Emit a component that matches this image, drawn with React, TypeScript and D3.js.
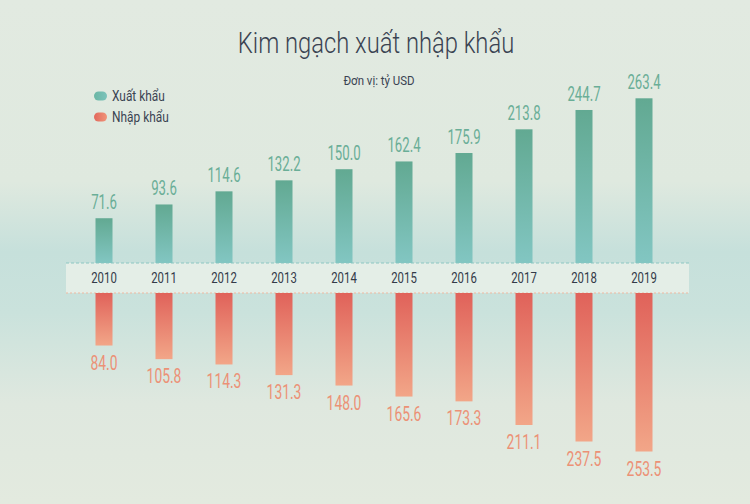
import React from "react";
import * as d3 from "d3";

const years = ["2010","2011","2012","2013","2014","2015","2016","2017","2018","2019"];
const exportsV = [71.6, 93.6, 114.6, 132.2, 150.0, 162.4, 175.9, 213.8, 244.7, 263.4];
const importsV = [84.0, 105.8, 114.3, 131.3, 148.0, 165.6, 173.3, 211.1, 237.5, 253.5];
const title = "Kim ngạch xuất nhập khẩu";
const subtitle = "Đơn vị: tỷ USD";
const legendLabels = ["Xuất khẩu", "Nhập khẩu"];

const W = 750, H = 504;
const bandTop = 263, bandBottom = 293;
const barW = 17;
const font = "Roboto, sans-serif";

function Narrow({ x, y, sx, children, ...rest }: any) {
  return (
    <g transform={`translate(${x},${y}) scale(${sx},1)`}>
      <text fontFamily={font} {...rest}>{children}</text>
    </g>
  );
}

export default function App() {
  const x = d3.scalePoint<string>().domain(years).range([104, 644]);
  const h = d3.scaleLinear().domain([0, 263.4]).range([0, 164.7]);
  const fmt = d3.format(".1f");

  return (
    <svg width={W} height={H} style={{ position: "absolute", left: 0, top: 0 }}>
      <defs>
        <linearGradient id="bg" x1="0" y1="0" x2="0" y2="1">
          <stop offset="0" stopColor="#e2eae1" />
          <stop offset="0.36" stopColor="#dfe9df" />
          <stop offset="0.5" stopColor="#c6e0db" />
          <stop offset="0.62" stopColor="#cae2dc" />
          <stop offset="0.8" stopColor="#dfe8df" />
          <stop offset="1" stopColor="#e3eadf" />
        </linearGradient>
        <linearGradient id="gExp" x1="0" y1="0" x2="0" y2="1">
          <stop offset="0" stopColor="#62a992" />
          <stop offset="1" stopColor="#82c6c2" />
        </linearGradient>
        <linearGradient id="gImp" x1="0" y1="0" x2="0" y2="1">
          <stop offset="0" stopColor="#e0625a" />
          <stop offset="1" stopColor="#f2a688" />
        </linearGradient>
        <linearGradient id="lExp" x1="0" y1="0" x2="1" y2="0">
          <stop offset="0" stopColor="#6ab6a4" />
          <stop offset="1" stopColor="#7cc3bb" />
        </linearGradient>
        <linearGradient id="lImp" x1="0" y1="0" x2="1" y2="0">
          <stop offset="0" stopColor="#e2685c" />
          <stop offset="1" stopColor="#f0957a" />
        </linearGradient>
      </defs>
      <rect x={0} y={0} width={W} height={H} fill="url(#bg)" />

      <Narrow x={376} y={53} sx={0.82} textAnchor="middle" fontSize={29} fontWeight={300} fill="#3a4352">{title}</Narrow>
      <Narrow x={379} y={85} sx={0.85} textAnchor="middle" fontSize={13.5} fill="#3a4352">{subtitle}</Narrow>

      {legendLabels.map((l, i) => (
        <g key={l} transform={`translate(0,${96 + i * 21})`}>
          <rect x={94} y={-4.5} width={13} height={9} rx={4.5} fill={i === 0 ? "url(#lExp)" : "url(#lImp)"} />
          <Narrow x={112} y={5} sx={0.85} fontSize={14} fill="#3a4352">{l}</Narrow>
        </g>
      ))}

      <rect x={66} y={bandTop} width={623} height={bandBottom - bandTop} fill="#e4eee7" />
      <line x1={66} x2={689} y1={bandTop} y2={bandTop} stroke="#8cc6c2" strokeWidth={1} strokeDasharray="3,2" />
      <line x1={66} x2={689} y1={bandBottom} y2={bandBottom} stroke="#efb9a0" strokeWidth={1} strokeDasharray="2,2" />

      {years.map((yr, i) => {
        const cx = x(yr)!;
        const he = h(exportsV[i]);
        const hi = h(importsV[i]);
        return (
          <g key={yr}>
            <rect x={cx - barW / 2} y={bandTop - he} width={barW} height={he} fill="url(#gExp)" />
            <rect x={cx - barW / 2} y={bandBottom} width={barW} height={hi} fill="url(#gImp)" />
            <Narrow x={cx} y={bandTop - he - 9} sx={0.66} textAnchor="middle" fontSize={20} fill="#6aae97">{fmt(exportsV[i])}</Narrow>
            <Narrow x={cx} y={bandBottom + hi + 24} sx={0.66} textAnchor="middle" fontSize={21} fill="#ec9176">{fmt(importsV[i])}</Narrow>
            <Narrow x={cx} y={283} sx={0.76} textAnchor="middle" fontSize={15} fill="#333a48">{yr}</Narrow>
          </g>
        );
      })}
    </svg>
  );
}
